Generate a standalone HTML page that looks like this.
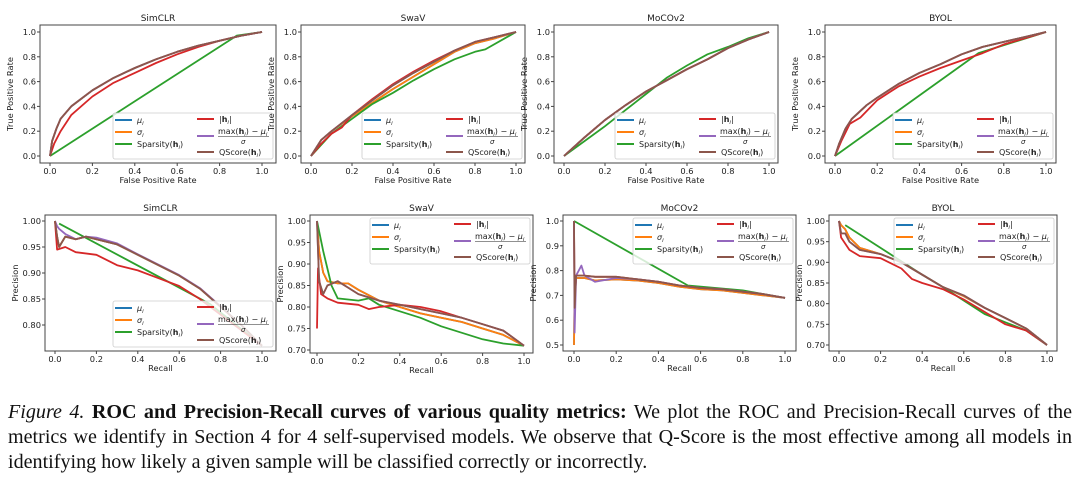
<!DOCTYPE html>
<html><head><meta charset="utf-8">
<style>
body{margin:0;background:#fff;width:1080px;height:485px;overflow:hidden;}
svg text{font-family:"DejaVu Sans","Liberation Sans",sans-serif;fill:#222;}
#caption{position:absolute;left:8px;top:400px;width:1064px;font-family:"Liberation Serif",serif;font-size:20.1px;line-height:25px;color:#111;}
#caption div{text-align:justify;text-align-last:justify;white-space:nowrap;}
#caption div.last{text-align-last:left;}
</style></head><body>
<svg id="fig" width="1080" height="395" style="position:absolute;left:0;top:0"></svg>
<div id="caption"><div><i>Figure 4.</i> <b>ROC and Precision-Recall curves of various quality metrics:</b> We plot the ROC and Precision-Recall curves of the</div><div>metrics we identify in Section 4 for 4 self-supervised models. We observe that Q-Score is the most effective among all models in</div><div class="last">identifying how likely a given sample will be classified correctly or incorrectly.</div></div>
<script>
// ---- data (x values, y values per series) ----
const seriesNames = ["mu","sigma","sparsity","hnorm","maxnorm","qscore"];
// ROC SimCLR
const rocSimX = [0,0.01,0.03,0.05,0.1,0.2,0.3,0.4,0.5,0.6,0.7,0.8,0.9,1];
const rocSimCommon = [0,0.12,0.22,0.3,0.4,0.53,0.63,0.71,0.78,0.84,0.89,0.93,0.97,1];
const rocSimRedX = [0,0.02,0.05,0.1,0.2,0.3,0.4,0.5,0.6,0.7,0.8,0.9,1];
const rocSimRed = [0,0.1,0.2,0.33,0.48,0.59,0.67,0.75,0.82,0.88,0.93,0.97,1];
const rocSimSparX = [0,0.88,1];
const rocSimSpar = [0,0.97,1];
// ROC SwaV
const rocSwaX = [0,0.05,0.1,0.2,0.3,0.4,0.5,0.6,0.7,0.8,0.9,1];
const rocSwaCommon = [0,0.13,0.2,0.33,0.45,0.57,0.67,0.76,0.85,0.92,0.96,1];
const rocSwaBlue = [0,0.13,0.2,0.32,0.43,0.54,0.64,0.74,0.84,0.91,0.95,1];
const rocSwaRedX = [0,0.05,0.1,0.15,0.2,0.3,0.4,0.5,0.6,0.7,0.8,0.9,1];
const rocSwaRed = [0,0.1,0.18,0.23,0.33,0.46,0.58,0.68,0.77,0.85,0.92,0.96,1];
const rocSwaSparX = [0,0.1,0.2,0.3,0.4,0.5,0.6,0.7,0.8,0.85,1];
const rocSwaSpar = [0,0.18,0.3,0.42,0.51,0.61,0.7,0.78,0.84,0.86,1];
// ROC MoCOv2
const rocMocX = [0,0.1,0.2,0.3,0.4,0.5,0.6,0.7,0.8,0.9,1];
const rocMocCommon = [0,0.15,0.29,0.41,0.52,0.61,0.7,0.78,0.87,0.94,1];
const rocMocSpar = [0,0.12,0.24,0.37,0.5,0.63,0.73,0.82,0.88,0.95,1];
// ROC BYOL
const rocByoX = [0,0.02,0.05,0.08,0.15,0.2,0.3,0.4,0.5,0.6,0.7,0.8,0.9,1];
const rocByoCommon = [0,0.1,0.22,0.3,0.41,0.47,0.58,0.67,0.74,0.82,0.88,0.92,0.96,1];
const rocByoRedX = [0,0.03,0.07,0.12,0.2,0.3,0.4,0.5,0.6,0.7,0.8,0.9,1];
const rocByoRed = [0,0.12,0.26,0.31,0.45,0.56,0.64,0.71,0.77,0.83,0.9,0.95,1];
const rocByoSparX = [0,0.68,1];
const rocByoSpar = [0,0.83,1];
// PR SimCLR
const prSimX = [0,0.01,0.02,0.05,0.1,0.15,0.2,0.3,0.4,0.5,0.6,0.7,0.8,0.9,1];
const prSimCommon = [1,0.97,0.95,0.97,0.965,0.97,0.965,0.955,0.935,0.915,0.895,0.87,0.835,0.8,0.76];
const prSimPurple = [1,0.99,0.985,0.975,0.965,0.97,0.968,0.957,0.936,0.916,0.896,0.871,0.836,0.8,0.76];
const prSimRedX = [0,0.01,0.05,0.1,0.2,0.3,0.4,0.5,0.6,0.7,0.8,0.9,1];
const prSimRed = [1,0.945,0.95,0.94,0.935,0.915,0.905,0.89,0.875,0.85,0.82,0.79,0.76];
const prSimSparX = [0.02,0.75,1];
const prSimSpar = [0.995,0.84,0.76];
// PR SwaV
const prSwaX = [0,0.01,0.03,0.05,0.1,0.15,0.2,0.3,0.4,0.5,0.6,0.7,0.8,0.9,1];
const prSwaCommon = [1,0.86,0.83,0.85,0.86,0.845,0.83,0.815,0.805,0.795,0.785,0.775,0.76,0.745,0.71];
const prSwaBlue = [1,0.93,0.88,0.86,0.855,0.855,0.84,0.815,0.8,0.785,0.775,0.765,0.75,0.735,0.71];
const prSwaRedX = [0,0.005,0.02,0.05,0.1,0.2,0.25,0.3,0.4,0.5,0.6,0.7,0.8,0.9,1];
const prSwaRed = [0.75,0.89,0.83,0.82,0.81,0.805,0.795,0.8,0.805,0.8,0.79,0.775,0.76,0.745,0.71];
const prSwaSparX = [0,0.03,0.07,0.1,0.2,0.25,0.3,0.4,0.5,0.6,0.7,0.8,0.9,1];
const prSwaSpar = [1,0.93,0.85,0.82,0.815,0.82,0.805,0.79,0.775,0.755,0.74,0.725,0.715,0.71];
// PR MoCOv2
const prMocX = [0,0.003,0.01,0.05,0.1,0.2,0.3,0.4,0.5,0.6,0.7,0.8,0.9,1];
const prMocCommon = [1,0.65,0.78,0.78,0.775,0.775,0.765,0.755,0.74,0.73,0.725,0.715,0.705,0.69];
const prMocBlue = [0.5,0.7,0.77,0.77,0.76,0.765,0.76,0.75,0.735,0.725,0.72,0.71,0.7,0.69];
const prMocPurpleX = [0,0.003,0.01,0.035,0.05,0.1,0.2,0.3,0.4,0.5,0.6,0.7,0.8,0.9,1];
const prMocPurple = [1,0.55,0.78,0.82,0.78,0.755,0.77,0.765,0.755,0.74,0.73,0.725,0.715,0.705,0.69];
const prMocSparX = [0,0.54,0.6,0.8,1];
const prMocSpar = [1,0.74,0.735,0.72,0.69];
// PR BYOL
const prByoX = [0,0.01,0.03,0.05,0.1,0.2,0.3,0.4,0.5,0.6,0.7,0.8,0.9,1];
const prByoCommon = [1,0.97,0.97,0.95,0.93,0.92,0.9,0.87,0.84,0.82,0.79,0.765,0.74,0.7];
const prByoBlue = [1,0.99,0.98,0.96,0.935,0.92,0.9,0.87,0.84,0.818,0.79,0.765,0.74,0.7];
const prByoRedX = [0,0.01,0.05,0.1,0.2,0.3,0.35,0.4,0.5,0.6,0.7,0.8,0.9,1];
const prByoRed = [1,0.96,0.93,0.915,0.91,0.885,0.86,0.85,0.835,0.81,0.78,0.75,0.735,0.7];
const prByoSparX = [0.03,0.4,0.5,0.7,0.8,0.9,1];
const prByoSpar = [0.99,0.87,0.84,0.775,0.755,0.735,0.7];
// tick labels
const xTicks = [0,0.2,0.4,0.6,0.8,1.0];
const rocYTicks = [0,0.2,0.4,0.6,0.8,1.0];
const prSimYTicks = [0.80,0.85,0.90,0.95,1.00];
const prSwaYTicks = [0.70,0.75,0.80,0.85,0.90,0.95,1.00];
const prMocYTicks = [0.5,0.6,0.7,0.8,0.9,1.0];
const prByoYTicks = [0.70,0.75,0.80,0.85,0.90,0.95,1.00];

const colors = {mu:"#1f77b4",sigma:"#ff7f0e",sparsity:"#2ca02c",hnorm:"#d62728",maxnorm:"#9467bd",qscore:"#8c564b"};
const NS="http://www.w3.org/2000/svg";
const svg=document.getElementById('fig');
function mk(tag,attrs,parent){const e=document.createElementNS(NS,tag);for(const k in attrs)e.setAttribute(k,attrs[k]);(parent||svg).appendChild(e);return e;}

function panel(p){
  const g=mk('g',{});
  
  
  const sx=v=>p.x0+(v)*(p.x1-p.x0);
  const sy=v=>p.yA+(v-p.vA)*(p.yB-p.yA)/(p.vB-p.vA);
  p.series.forEach(s=>{
    const d=s.xs.map((x,i)=>(i?'L':'M')+sx(x).toFixed(1)+','+sy(s.ys[i]).toFixed(1)).join('');
    const path=mk('path',{d:d,fill:'none',stroke:colors[s.key],'stroke-width':1.8,'stroke-linejoin':'round'},g);
    
    
  });
  const fr=mk('rect',{x:p.L,y:p.T,width:p.R-p.L,height:p.B-p.T,fill:'none',stroke:'#444','stroke-width':1},g);
  
  
  xTicks.forEach(t=>{
    const X=sx(t);
    mk('line',{x1:X,x2:X,y1:p.B,y2:p.B+3,stroke:'#444'},g);
    const tx=mk('text',{x:X,y:p.B+11,'font-size':8.3,'text-anchor':'middle'},g);
    tx.textContent=t.toFixed(1);
    
    
  });
  p.yTicks.forEach(t=>{
    const Y=sy(t);
    mk('line',{x1:p.L-3,x2:p.L,y1:Y,y2:Y,stroke:'#444'},g);
    const tx=mk('text',{x:p.L-4,y:Y+3,'font-size':8.3,'text-anchor':'end'},g);
    tx.textContent=t.toFixed(p.dec);
    
    
  });
  const ti=mk('text',{x:(p.L+p.R)/2,y:p.T-4,'font-size':9,'text-anchor':'middle'},g);
  ti.textContent=p.title;
  
  
  const xl=mk('text',{x:(p.L+p.R)/2,y:p.B+20,'font-size':8.3,'text-anchor':'middle'},g);
  xl.textContent=p.xlabel;
  
  
  const yx=p.L-27, yy=(p.T+p.B)/2;
  const yl=mk('text',{x:yx,y:yy,'font-size':8.3,'text-anchor':'middle',transform:`rotate(-90 ${yx} ${yy})`},g);
  yl.textContent=p.ylabel;
  
  
  const lw=160,lh=46;
  const lx=p.R-lw-3, ly=p.legendTop? p.T+3 : p.B-lh-4;
  const lg=mk('g',{},g);
  
  
  mk('rect',{x:lx,y:ly,width:lw,height:lh,fill:'rgba(255,255,255,0.8)',stroke:'#ccc','stroke-width':0.8,rx:2},lg);
  const ent=[
    {k:'mu',c:0,y:7,h:'<tspan font-style="italic">μ</tspan><tspan font-size="5.5" font-style="italic" dy="2">i</tspan>'},
    {k:'sigma',c:0,y:19,h:'<tspan font-style="italic">σ</tspan><tspan font-size="5.5" font-style="italic" dy="2">i</tspan>'},
    {k:'sparsity',c:0,y:31,h:'Sparsity(<tspan font-weight="bold">h</tspan><tspan font-size="5.5" font-style="italic" dy="2">i</tspan><tspan dy="-2">)</tspan>'},
    {k:'hnorm',c:1,y:6,h:'|<tspan font-weight="bold">h</tspan><tspan font-size="5.5" font-style="italic" dy="2">i</tspan><tspan dy="-2">|</tspan>'},
    {k:'maxnorm',c:1,y:23,h:''},
    {k:'qscore',c:1,y:39,h:'QScore(<tspan font-weight="bold">h</tspan><tspan font-size="5.5" font-style="italic" dy="2">i</tspan><tspan dy="-2">)</tspan>'}
  ];
  ent.forEach(e=>{
    const bx=lx+(e.c?84:2), by=ly+e.y;
    const ln=mk('line',{x1:bx,x2:bx+17,y1:by,y2:by,stroke:colors[e.k],'stroke-width':2},lg);
    
    
    if(e.k==='maxnorm'){
      const t1=mk('text',{x:bx+21,y:by-2,'font-size':8},lg);
      t1.innerHTML='max(<tspan font-weight="bold">h</tspan><tspan font-size="5.5" font-style="italic" dy="2">i</tspan><tspan dy="-2">) − </tspan><tspan font-style="italic">μ</tspan><tspan font-size="5.5" font-style="italic" dy="2">i</tspan>';
      
      
      mk('line',{x1:bx+21,x2:bx+72,y1:by+0.5,y2:by+0.5,stroke:'#222','stroke-width':0.6},lg);
      const t2=mk('text',{x:bx+44,y:by+8,'font-size':7,'font-style':'italic'},lg);
      t2.textContent='σ';
      
      
    } else {
      const t=mk('text',{x:bx+22,y:by+2.8,'font-size':8},lg);
      t.innerHTML=e.h;
      
      
    }
  });
}
function S(key,xs,ys){return {key,xs,ys};}
const rocL={xlabel:'False Positive Rate',ylabel:'True Positive Rate',T:25,B:163,yA:32,vA:1.0,yB:156,vB:0,yTicks:rocYTicks,dec:1,legendTop:false};
panel(Object.assign({},rocL,{name:'roc-simclr',title:'SimCLR',L:40,R:276,x0:50,x1:262,series:[
  S('mu',rocSimX,rocSimCommon),S('sigma',rocSimX,rocSimCommon),S('sparsity',rocSimSparX,rocSimSpar),S('hnorm',rocSimRedX,rocSimRed),S('maxnorm',rocSimX,rocSimCommon),S('qscore',rocSimX,rocSimCommon)]}));
panel(Object.assign({},rocL,{name:'roc-swav',title:'SwaV',L:301,R:525,x0:311,x1:516,series:[
  S('mu',rocSwaX,rocSwaBlue),S('sigma',rocSwaX,rocSwaBlue),S('sparsity',rocSwaSparX,rocSwaSpar),S('hnorm',rocSwaRedX,rocSwaRed),S('maxnorm',rocSwaX,rocSwaCommon),S('qscore',rocSwaX,rocSwaCommon)]}));
panel(Object.assign({},rocL,{name:'roc-mocov2',title:'MoCOv2',L:554,R:778,x0:564,x1:769,series:[
  S('mu',rocMocX,rocMocCommon),S('sigma',rocMocX,rocMocCommon),S('sparsity',rocMocX,rocMocSpar),S('hnorm',rocMocX,rocMocCommon),S('maxnorm',rocMocX,rocMocCommon),S('qscore',rocMocX,rocMocCommon)]}));
panel(Object.assign({},rocL,{name:'roc-byol',title:'BYOL',L:825,R:1056,x0:835,x1:1046,series:[
  S('mu',rocByoX,rocByoCommon),S('sigma',rocByoX,rocByoCommon),S('sparsity',rocByoSparX,rocByoSpar),S('hnorm',rocByoRedX,rocByoRed),S('maxnorm',rocByoX,rocByoCommon),S('qscore',rocByoX,rocByoCommon)]}));
const prL={xlabel:'Recall',ylabel:'Precision',T:215,B:351,yA:221};
panel(Object.assign({},prL,{name:'pr-simclr',title:'SimCLR',L:45,R:276,x0:55,x1:262,vA:1.0,yB:325,vB:0.8,yTicks:prSimYTicks,dec:2,legendTop:false,series:[
  S('mu',prSimX,prSimCommon),S('sigma',prSimX,prSimCommon),S('sparsity',prSimSparX,prSimSpar),S('hnorm',prSimRedX,prSimRed),S('maxnorm',prSimX,prSimPurple),S('qscore',prSimX,prSimCommon)]}));
panel(Object.assign({},prL,{name:'pr-swav',title:'SwaV',L:310,R:533,B:353,x0:317,x1:524,vA:1.0,yB:350,vB:0.7,yTicks:prSwaYTicks,dec:2,legendTop:true,series:[
  S('mu',prSwaX,prSwaBlue),S('sigma',prSwaX,prSwaBlue),S('sparsity',prSwaSparX,prSwaSpar),S('hnorm',prSwaRedX,prSwaRed),S('maxnorm',prSwaX,prSwaCommon),S('qscore',prSwaX,prSwaCommon)]}));
panel(Object.assign({},prL,{name:'pr-mocov2',title:'MoCOv2',L:563,R:796,x0:574,x1:785,vA:1.0,yB:345,vB:0.5,yTicks:prMocYTicks,dec:1,legendTop:true,series:[
  S('mu',prMocX,prMocBlue),S('sigma',prMocX,prMocBlue),S('sparsity',prMocSparX,prMocSpar),S('hnorm',prMocX,prMocCommon),S('maxnorm',prMocPurpleX,prMocPurple),S('qscore',prMocX,prMocCommon)]}));
panel(Object.assign({},prL,{name:'pr-byol',title:'BYOL',L:829,R:1057,x0:839,x1:1047,vA:1.0,yB:345,vB:0.7,yTicks:prByoYTicks,dec:2,legendTop:true,series:[
  S('mu',prByoX,prByoBlue),S('sigma',prByoX,prByoBlue),S('sparsity',prByoSparX,prByoSpar),S('hnorm',prByoRedX,prByoRed),S('maxnorm',prByoX,prByoCommon),S('qscore',prByoX,prByoCommon)]}));
</script>
</body></html>
